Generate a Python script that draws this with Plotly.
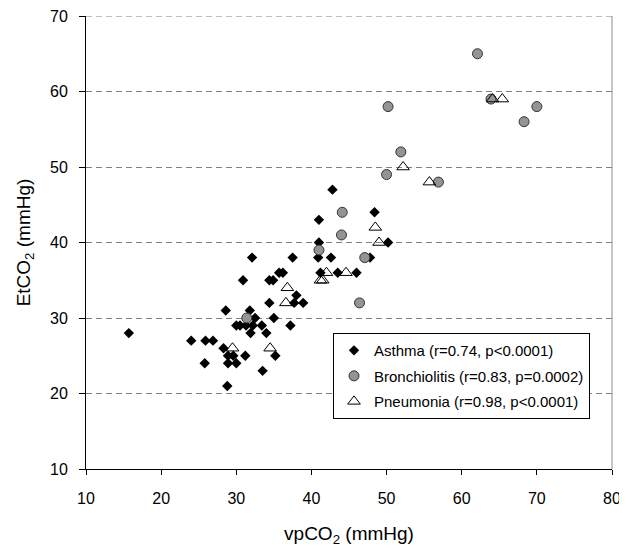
import plotly.graph_objects as go

asthma_x = [15.7, 24.0, 25.9, 26.9, 28.3, 25.8, 28.9, 30.0, 28.9, 29.6, 31.2, 35.2, 33.5, 28.8,
            31.9, 34.0, 30.0, 30.5, 31.3, 32.2, 33.4, 37.2, 32.5, 35.0, 28.6, 31.8, 34.4, 37.7,
            38.9, 38.0, 30.9, 34.4, 34.9, 35.7, 36.2, 32.1, 37.5, 40.9, 42.6, 47.8, 41.2, 43.5,
            46.0, 41.0, 50.2, 41.0, 48.4, 42.8]
asthma_y = [28, 27, 27, 27, 26, 24, 24, 24, 25, 25, 25, 25, 23, 21,
            28, 28, 29, 29, 29, 29, 29, 29, 30, 30, 31, 31, 32, 32,
            32, 33, 35, 35, 35, 36, 36, 38, 38, 38, 38, 38, 36, 36,
            36, 40, 40, 43, 44, 47]

bronch_x = [31.4, 41.0, 44.0, 44.1, 47.1, 46.4, 50.0, 50.2, 51.9, 56.9, 62.1, 63.9, 68.3, 70.0]
bronch_y = [30, 39, 41, 44, 38, 32, 49, 58, 52, 48, 65, 59, 56, 58]

pneu_x = [29.5, 34.5, 36.6, 36.8, 41.2, 41.5, 42.0, 44.6, 48.5, 49.0, 52.2, 55.7, 64.1, 65.4]
pneu_y = [26, 26, 32, 34, 35, 35, 36, 36, 42, 40, 50, 48, 59, 59]

names = ["Asthma (r=0.74, p<0.0001)",
         "Bronchiolitis (r=0.83, p=0.0002)",
         "Pneumonia (r=0.98, p<0.0001)"]

x_ticks = [10, 20, 30, 40, 50, 60, 70, 80]
y_ticks = [10, 20, 30, 40, 50, 60, 70]

fig = go.Figure()
fig.add_trace(go.Scatter(x=asthma_x, y=asthma_y, mode="markers", name=names[0], legendgroup="a",
                         marker=dict(symbol="diamond", size=8, color="black",
                                     line=dict(color="black", width=0))))
fig.add_trace(go.Scatter(x=bronch_x, y=bronch_y, mode="markers", name=names[1], legendgroup="b",
                         marker=dict(symbol="circle", size=10, color="#949494",
                                     line=dict(color="#333333", width=1))))
fig.add_trace(go.Scatter(x=pneu_x, y=pneu_y, mode="markers", name=names[2], legendgroup="c",
                         marker=dict(symbol="triangle-up-open", size=11, color="black",
                                     line=dict(color="black", width=1))))

# right border and top dashed line at the top of the y range
fig.add_shape(type="line", xref="paper", yref="paper", x0=1, x1=1, y0=0, y1=1,
              line=dict(color="#8c8c8c", width=1))
fig.add_shape(type="line", xref="paper", yref="y", x0=0, x1=1, y0=y_ticks[-1], y1=y_ticks[-1],
              line=dict(color="#808080", width=1, dash="6px,4px"))

# the page body adds an 8px margin, so the figure is sized/offset to compensate
fig.update_layout(
    width=618, height=541,
    margin=dict(l=78, r=14, t=8, b=80),
    paper_bgcolor="white", plot_bgcolor="white",
    font=dict(family="Arial", color="black", size=14),
    showlegend=True,
    legend=dict(x=0.4696, y=0.300, xanchor="left", yanchor="top",
                bgcolor="white", bordercolor="black", borderwidth=1,
                font=dict(family="Arial", size=15), tracegroupgap=3, itemwidth=30),
    xaxis=dict(range=[10, 80], tickvals=x_ticks, ticks="outside", ticklen=5,
               tickcolor="black", showline=True, linecolor="black", linewidth=1,
               showgrid=False, zeroline=False, tickfont=dict(size=16),
               ticklabelstandoff=10, automargin=False, ticklabeloverflow="allow",
               title=dict(text="vpCO<sub>2</sub> (mmHg)", font=dict(size=19), standoff=20)),
    yaxis=dict(range=[10, 70], tickvals=y_ticks, ticks="outside", ticklen=6,
               tickcolor="black", showline=True, linecolor="black", linewidth=1,
               showgrid=True, gridcolor="#808080", griddash="6px,4px", gridwidth=1,
               zeroline=False, tickfont=dict(size=16), ticklabelstandoff=8,
               automargin=False, ticklabeloverflow="allow",
               title=dict(text="EtCO<sub>2</sub> (mmHg)", font=dict(size=19), standoff=14)),
)

fig.write_html("out.html")
